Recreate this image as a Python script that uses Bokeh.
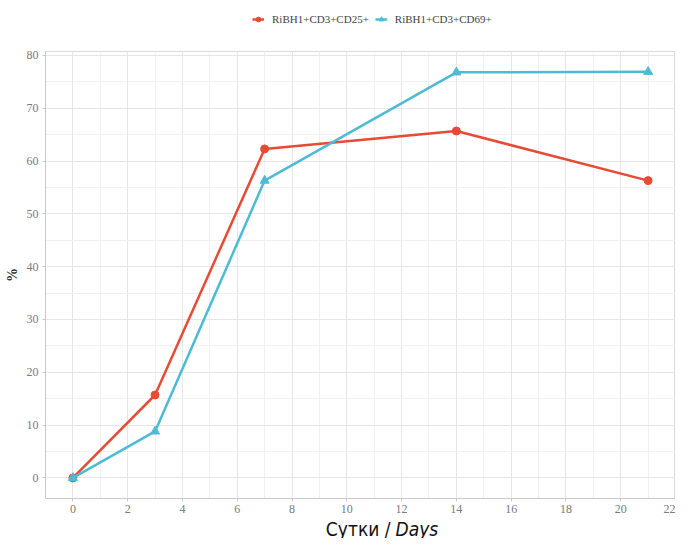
from bokeh.plotting import figure
from bokeh.layouts import column
from bokeh.models import (Range1d, SingleIntervalTicker, Legend, LegendItem, Label)
from bokeh.embed import file_html
from bokeh.resources import INLINE

days = [0, 3, 7, 14, 21]
cd25 = [0.0, 15.7, 62.3, 65.7, 56.3]
cd69 = [0.0, 8.8, 56.3, 76.8, 76.9]
names = ["RiBH1+CD3+CD25+", "RiBH1+CD3+CD69+"]
colors = ["#E64B35", "#4DBBD5"]
x_title = ["Сутки /", "Days"]
x_ticks_step = 2
y_ticks_step = 10

SERIF = "'Liberation Serif', 'DejaVu Serif', serif"
NARROW = ("'Liberation Sans Narrow', 'Arial Narrow', 'DejaVu Sans Condensed', "
          "'Roboto Condensed', 'Liberation Sans', sans-serif")
W = 675

# ---- legend strip (its frame is aligned with the main frame by the column) ----
top = figure(width=W, height=46, output_backend="svg", toolbar_location=None,
             x_axis_type=None, y_axis_type=None,
             x_range=Range1d(100, 101), y_range=Range1d(100, 101), min_border=0)
top.outline_line_color = None
lr1 = top.line(days, cd25, line_color=colors[0], line_width=2.5)
lm1 = top.scatter(days, cd25, marker="circle", size=7, color=colors[0])
lr2 = top.line(days, cd69, line_color=colors[1], line_width=2.5)
lm2 = top.scatter(days, cd69, marker="triangle", size=8, color=colors[1])
legend = Legend(items=[LegendItem(label=names[0], renderers=[lr1, lm1]),
                       LegendItem(label=names[1], renderers=[lr2, lm2])],
                orientation="horizontal", location=(207, 20),
                label_text_font=SERIF, label_text_font_size="11px",
                label_text_color="#444444", glyph_width=12, glyph_height=14,
                label_standoff=8, spacing=6, padding=1, margin=0,
                background_fill_alpha=0, border_line_color=None,
                label_height=14)
top.add_layout(legend, "center")

# ---- main plot ----
p = figure(width=W, height=472, output_backend="svg", toolbar_location=None,
           x_range=Range1d(-1.0, 22.0), y_range=Range1d(-3.9, 80.75),
           min_border_left=45, min_border_right=0, min_border_top=5, min_border_bottom=20)
p.outline_line_color = "#DADADA"
p.outline_line_width = 1

for ax in (p.xaxis, p.yaxis):
    ax.axis_line_color = "#C8C8C8"
    ax.major_tick_line_color = "#C8C8C8"
    ax.major_tick_out = 3
    ax.major_tick_in = 0
    ax.minor_tick_line_color = None
    ax.major_label_text_font = SERIF
    ax.major_label_text_font_size = "12px"
    ax.major_label_text_color = "#7A7A7A"
    ax.major_label_standoff = 3
p.xaxis.major_label_standoff = 2

p.xaxis.ticker = SingleIntervalTicker(interval=x_ticks_step, num_minor_ticks=2)
p.yaxis.ticker = SingleIntervalTicker(interval=y_ticks_step, num_minor_ticks=2)
p.xgrid.ticker = p.xaxis.ticker
p.ygrid.ticker = p.yaxis.ticker
for g in (p.xgrid, p.ygrid):
    g.grid_line_color = "#E6E6E6"
    g.grid_line_width = 1
    g.minor_grid_line_color = "#F0F0F0"
    g.minor_grid_line_width = 1

p.yaxis.axis_label = "%"
p.yaxis.axis_label_text_font = SERIF
p.yaxis.axis_label_text_font_style = "bold"
p.yaxis.axis_label_text_font_size = "14px"
p.yaxis.axis_label_text_color = "#333333"
p.yaxis.axis_label_standoff = 4

p.line(days, cd25, line_color=colors[0], line_width=2.5)
p.scatter(days, cd25, marker="circle", size=8, color=colors[0])
p.line(days, cd69, line_color=colors[1], line_width=2.5)
p.scatter(days, cd69, marker="triangle", size=9, color=colors[1])

# ---- x title strip ----
bot = figure(width=W, height=20, output_backend="svg", toolbar_location=None,
             x_axis_type=None, y_axis_type=None, x_range=Range1d(0, 1), y_range=Range1d(0, 1),
             min_border=0)
bot.outline_line_color = None
bot.add_layout(Label(x=345, y=10, x_units="screen", y_units="screen", text=x_title[0],
                     text_font=NARROW, text_font_size="19px", text_color="#111111",
                     text_align="right", text_baseline="middle"))
bot.add_layout(Label(x=350, y=10, x_units="screen", y_units="screen", text=x_title[1],
                     text_font=NARROW, text_font_size="19px", text_font_style="italic",
                     text_color="#111111", text_align="left", text_baseline="middle"))

layout = column(top, p, bot, spacing=0)
open("out.html", "w").write(file_html(layout, INLINE))
